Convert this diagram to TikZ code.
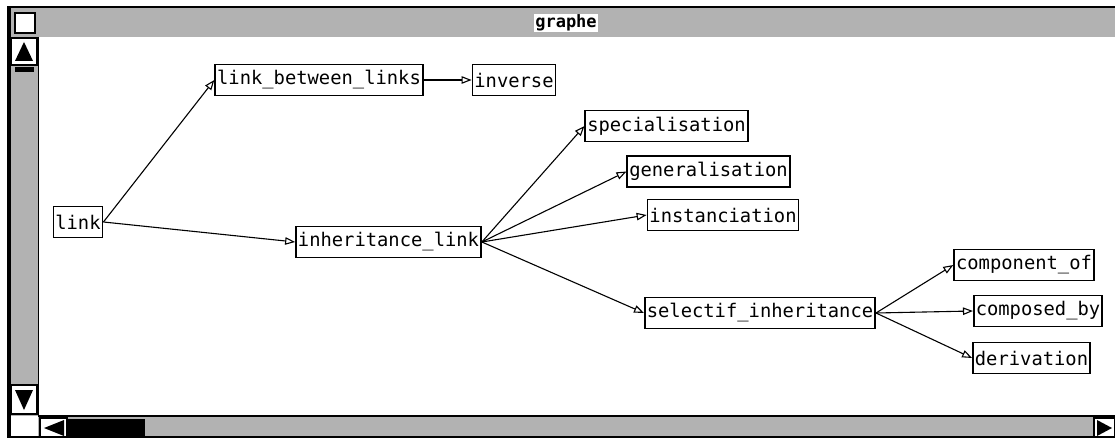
\documentclass[tikz,border=0pt]{standalone}
\usepackage{fontspec}
\setmonofont{DejaVu Sans Mono}
\usetikzlibrary{arrows.meta}

\tikzset{
  box/.style={draw, line width=1.6pt, fill=white, inner xsep=2pt, inner ysep=0pt,
    minimum height=31pt, font=\fontsize{18.8}{20}\selectfont\ttfamily},
  link/.style={line width=1.1pt, -{Triangle[open,length=10pt,width=7.5pt]}},
  stipple/.style={fill=black!30},
  scrollbox/.style={draw, line width=1.2pt, fill=white}
}

\begin{document}
\begin{tikzpicture}[x=1pt, y=-1pt]
                \useasboundingbox (0,0) rectangle (1115,446);
                
                % Window frame
                \fill[white] (0,0) rectangle (1115,446);
                \fill[stipple] (8,7) rectangle (1115,37);
                \fill[black] (7,6) rectangle (1115,8);
                \fill[black] (7,6) rectangle (11,437);
                \node[fill=white, inner sep=1pt, font=\fontsize{17}{18}\selectfont\ttfamily\bfseries] (title) at (566,23) {graphe};
                \draw[scrollbox] (15,13) rectangle (35,33);
                
                % Vertical scroll bar
                \fill[stipple] (11,37) rectangle (38,416);
                \draw[scrollbox] (11,38) rectangle (37,65);
                \fill[black] (24,42) -- (33,61) -- (15,61) -- cycle;
                \fill[black] (15,67) rectangle (34,72);
                \draw[scrollbox] (11,385) rectangle (37,414);
                \fill[black] (24,410) -- (33,390) -- (15,390) -- cycle;
                \draw[line width=1pt] (38,37) -- (38,416);
                
                % Horizontal scroll bar
                \fill[white] (11,416) rectangle (38,437);
                \fill[stipple] (38,416) rectangle (1115,437);
                \draw[scrollbox] (40,418) rectangle (67,437);
                \fill[black] (44,428) -- (64,420) -- (64,436) -- cycle;
                \fill[black] (68,419) rectangle (145,436);
                \draw[scrollbox] (1094,418) rectangle (1115,437);
                \fill[black] (1112,428) -- (1097,420) -- (1097,436) -- cycle;
                \draw[line width=1.2pt] (38,416) -- (1115,416);
                \draw[line width=1.2pt] (7,437) -- (1115,437);
                
                % Nodes
                \node[box] (link) at (78,222) {link};
                \node[box] (betweenlinks) at (319,80) {link\_between\_links};
                \node[box] (inverse) at (514,80) {inverse};
                \node[box] (inherit) at (388.5,242) {inheritance\_link};
                \node[box] (special) at (666.5,126) {specialisation};
                \node[box] (general) at (708.5,171.5) {generalisation};
                \node[box] (instanc) at (723,215) {instanciation};
                \node[box] (selectif) at (760,313) {selectif\_inheritance};
                \node[box] (componentof) at (1024,265) {component\_of};
                \node[box] (composedby) at (1038,311) {composed\_by};
                \node[box] (derivation) at (1031.5,358) {derivation};
                
                % Edges
                \draw[link] (link.east) -- (betweenlinks.west);
                \draw[link] (link.east) -- (inherit.west);
                \draw[link] (betweenlinks.east) -- (inverse.west);
                \draw[link] (inherit.east) -- (special.west);
                \draw[link] (inherit.east) -- (general.west);
                \draw[link] (inherit.east) -- (instanc.west);
                \draw[link] (inherit.east) -- (selectif.west);
                \draw[link] (selectif.east) -- (componentof.west);
                \draw[link] (selectif.east) -- (composedby.west);
                \draw[link] (selectif.east) -- (derivation.west);
            \end{tikzpicture}
\end{document}
